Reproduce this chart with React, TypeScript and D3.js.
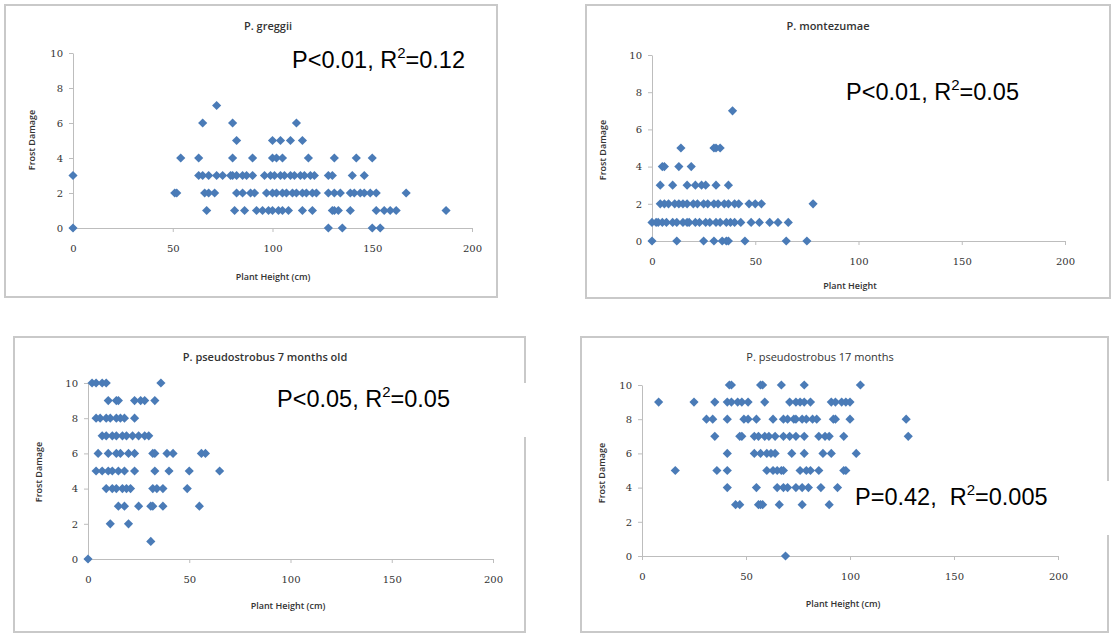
import React, { useEffect, useRef } from 'react';
import * as d3 from 'd3';

// plant heights (cm), grouped by frost damage score
const greggiiRows: [number, number[]][] = [
  [7, [72]],
  [6, [65, 80, 112]],
  [5, [82, 100, 104, 109, 115]],
  [4, [54, 63, 80, 90, 100, 102, 105, 118, 131, 142, 150]],
  [3, [0, 63, 65, 68, 72, 75, 79, 80, 82, 85, 87, 90, 96, 99, 101, 104, 106, 109, 111, 114, 116, 119, 121, 128, 130, 140, 146]],
  [2, [51, 52, 66, 68, 71, 82, 85, 89, 91, 97, 100, 102, 105, 107, 110, 112, 115, 117, 120, 122, 128, 131, 134, 139, 141, 144, 146, 149, 152, 167]],
  [1, [67, 81, 86, 92, 95, 98, 100, 103, 105, 108, 115, 120, 130, 131, 133, 139, 152, 156, 159, 162, 187]],
  [0, [0, 128, 135, 150, 154]],
];

const montezumaeRows: [number, number[]][] = [
  [7, [39]],
  [5, [14, 30, 31, 33]],
  [4, [5, 6, 13, 19]],
  [3, [4, 10, 17, 21, 24, 26, 31, 37]],
  [2, [4, 6, 8, 11, 13, 15, 17, 20, 22, 25, 27, 30, 32, 35, 37, 40, 42, 47, 50, 53, 78]],
  [1, [0, 2, 3, 5, 7, 10, 12, 15, 17, 18, 21, 23, 26, 28, 31, 33, 36, 38, 40, 43, 48, 52, 57, 61, 66]],
  [0, [0, 12, 25, 30, 34, 36, 37, 45, 65, 75]],
];

const pseudo7Rows: [number, number[]][] = [
  [10, [2, 4, 7, 9, 36]],
  [9, [10, 14, 15, 23, 26, 28, 33]],
  [8, [4, 6, 9, 11, 14, 16, 18, 23]],
  [7, [7, 9, 12, 14, 17, 19, 22, 25, 28, 30]],
  [6, [5, 10, 14, 16, 20, 23, 32, 33, 39, 42, 56, 58]],
  [5, [4, 7, 10, 12, 15, 18, 23, 33, 40, 50, 65]],
  [4, [9, 12, 14, 17, 19, 21, 32, 34, 37, 49]],
  [3, [15, 18, 25, 31, 32, 37, 55]],
  [2, [11, 20]],
  [1, [31]],
  [0, [0]],
];

const pseudo17Rows: [number, number[]][] = [
  [10, [42, 43, 57, 58, 67, 78, 105]],
  [9, [8, 25, 35, 41, 43, 46, 48, 51, 59, 71, 74, 76, 78, 81, 91, 93, 96, 98, 100]],
  [8, [31, 34, 41, 49, 51, 55, 63, 68, 70, 73, 74, 77, 79, 82, 84, 92, 93, 100, 127]],
  [7, [35, 47, 48, 54, 56, 59, 61, 64, 68, 71, 74, 78, 85, 88, 90, 97, 128]],
  [6, [41, 54, 57, 60, 62, 64, 72, 78, 87, 91, 103]],
  [5, [16, 36, 41, 60, 63, 65, 67, 68, 76, 79, 81, 85, 97, 98]],
  [4, [41, 55, 65, 68, 70, 74, 77, 80, 86, 94]],
  [3, [45, 47, 56, 57, 58, 66, 77, 90]],
  [0, [69]],
];

const xTicks = [0, 50, 100, 150, 200];
const yTicks = [0, 2, 4, 6, 8, 10];

const panels = [
  {
    title: 'P. greggii', titleWeight: 600, xLabel: 'Plant Height (cm)', rows: greggiiRows,
    stat: ['P<0.01, R', '=0.12'],
    box: [5, 5, 492, 292], xr: [73, 472], yr: [228, 53],
    titleAt: [268, 27], statAt: [292, 68], xLabelAt: [273, 278], yLabelAt: [33, 140], cutBorder: false,
  },
  {
    title: 'P. montezumae', titleWeight: 600, xLabel: 'Plant Height', rows: montezumaeRows,
    stat: ['P<0.01, R', '=0.05'],
    box: [586, 5, 524, 293], xr: [652, 1065], yr: [241, 55],
    titleAt: [828, 27], statAt: [846, 100], xLabelAt: [850, 287], yLabelAt: [604, 150], cutBorder: false,
  },
  {
    title: 'P. pseudostrobus 7 months old', titleWeight: 600, xLabel: 'Plant Height (cm)', rows: pseudo7Rows,
    stat: ['P<0.05, R', '=0.05'],
    box: [14, 337, 511, 295], xr: [88, 493], yr: [559, 383],
    titleAt: [265, 358], statAt: [277, 407], xLabelAt: [288, 607], yLabelAt: [40, 472], cutBorder: true,
  },
  {
    title: 'P. pseudostrobus 17 months', titleWeight: 400, xLabel: 'Plant Height (cm)', rows: pseudo17Rows,
    stat: ['P=0.42,  R', '=0.005'],
    box: [581, 337, 527, 295], xr: [642, 1058], yr: [556, 385],
    titleAt: [820, 358], statAt: [855, 505], xLabelAt: [843, 605], yLabelAt: [603, 473], cutBorder: true,
  },
];

const App = () => {
  const svgRef = useRef<SVGSVGElement>(null);

  useEffect(() => {
    const svg = d3.select(svgRef.current);
    svg.selectAll('*').remove();
    svg.append('rect').attr('width', 1114).attr('height', 634).attr('fill', '#fff');

    const diamond = d3.symbol(d3.symbolSquare, 42);

    panels.forEach((p) => {
      const g = svg.append('g');
      const [bx, by, bw, bh] = p.box;
      g.append('rect')
        .attr('x', bx).attr('y', by).attr('width', bw).attr('height', bh)
        .attr('fill', '#fff').attr('stroke', '#c9c9c9').attr('stroke-width', 2);

      const x = d3.scaleLinear().domain([0, 200]).range(p.xr);
      const y = d3.scaleLinear().domain([0, 10]).range(p.yr);

      const xAxis = d3.axisBottom(x).tickValues(xTicks).tickSize(4).tickSizeOuter(0);
      const yAxis = d3.axisLeft(y).tickValues(yTicks).tickSize(4).tickSizeOuter(0);

      const gx = g.append('g').attr('transform', `translate(0,${p.yr[0]})`).call(xAxis);
      const gy = g.append('g').attr('transform', `translate(${p.xr[0]},0)`).call(yAxis);
      [gx, gy].forEach((a) => {
        a.select('.domain').attr('stroke', '#bdbdbd');
        a.selectAll('.tick line').attr('stroke', '#bdbdbd');
        a.selectAll('.tick text')
          .attr('fill', '#333')
          .style('font-family', '"DejaVu Serif", serif')
          .style('font-size', '10px');
      });
      gx.selectAll('.tick text').attr('y', 17);
      gy.selectAll('.tick text').attr('x', -10);

      const pts: [number, number][] = [];
      p.rows.forEach(([dmg, hs]) => hs.forEach((h) => pts.push([h, dmg])));

      g.append('g')
        .selectAll('path')
        .data(pts)
        .join('path')
        .attr('d', diamond)
        .attr('transform', (d) => `translate(${x(d[0])},${y(d[1])}) rotate(45)`)
        .attr('fill', '#4a7bb7');

      g.append('text')
        .attr('x', p.titleAt[0]).attr('y', p.titleAt[1])
        .attr('text-anchor', 'middle').attr('dominant-baseline', 'middle')
        .style('font-family', '"Open Sans", sans-serif')
        .style('font-size', '11px').style('font-weight', p.titleWeight)
        .attr('fill', '#333')
        .text(p.title);

      g.append('text')
        .attr('x', p.xLabelAt[0]).attr('y', p.xLabelAt[1])
        .attr('text-anchor', 'middle').attr('dominant-baseline', 'middle')
        .style('font-family', '"Open Sans", sans-serif')
        .style('font-size', '9px').style('font-weight', 600)
        .attr('fill', '#333')
        .text(p.xLabel);

      g.append('text')
        .attr('transform', `translate(${p.yLabelAt[0]},${p.yLabelAt[1]}) rotate(-90)`)
        .attr('text-anchor', 'middle').attr('dominant-baseline', 'middle')
        .style('font-family', '"Open Sans", sans-serif')
        .style('font-size', '9px').style('font-weight', 600)
        .attr('fill', '#333')
        .text('Frost Damage');

      const [sx, sy] = p.statAt;
      if (p.cutBorder) {
        g.append('rect')
          .attr('x', sx - 8).attr('y', sy - 24)
          .attr('width', bx + bw + 8 - (sx - 8)).attr('height', 54)
          .attr('fill', '#fff');
      }
      const t = g.append('text')
        .attr('x', sx).attr('y', sy)
        .style('font-family', '"Liberation Sans", Arial, sans-serif')
        .style('font-size', '23.5px')
        .style('white-space', 'pre')
        .attr('fill', '#000');
      t.append('tspan').text(p.stat[0]);
      t.append('tspan').attr('dy', -10).style('font-size', '15px').text('2');
      t.append('tspan').attr('dy', 10).text(p.stat[1]);
    });
  }, []);

  return (
    <div>
      <svg ref={svgRef} width={1114} height={634} style={{ position: 'absolute', left: 0, top: 0 }} />
    </div>
  );
};

export default App;
